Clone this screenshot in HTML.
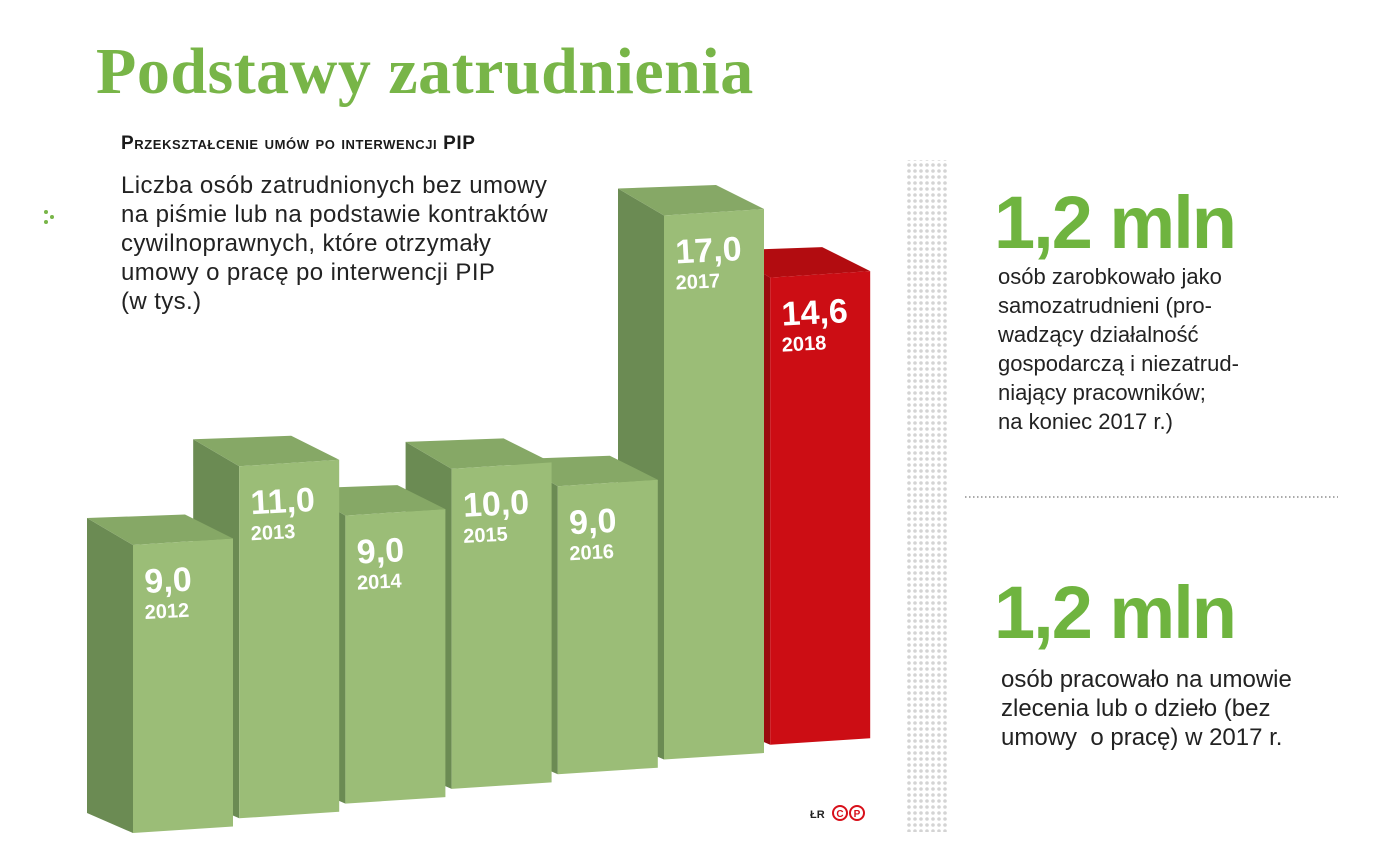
<!DOCTYPE html>
<html><head><meta charset="utf-8">
<style>
body{margin:0;width:1400px;height:866px;background:#fff;position:relative;overflow:hidden;font-family:"Liberation Sans",sans-serif;}
.abs{position:absolute;margin:0;white-space:nowrap;}
.title{left:96px;top:34px;font-family:"Liberation Serif",serif;font-size:66px;font-weight:bold;color:#78b548;letter-spacing:0.5px;}
.sub{left:121px;top:133px;font-size:19px;font-weight:bold;color:#1a1a1a;font-variant:small-caps;letter-spacing:0.6px;}
.desc{left:121px;top:171px;font-size:24px;line-height:29px;color:#222;letter-spacing:0.4px;}
.big{font-size:74px;font-weight:bold;color:#6fb43f;letter-spacing:-2px;}
.rtxt{font-size:22px;line-height:29px;color:#222;}
</style></head><body>
<div class="abs title">Podstawy zatrudnienia</div>
<div class="abs sub">Przekształcenie umów po interwencji PIP</div>
<div class="abs desc">Liczba osób zatrudnionych bez umowy<br>na piśmie lub na podstawie kontraktów<br>cywilnoprawnych, które otrzymały<br>umowy o pracę po interwencji PIP<br>(w tys.)</div>
<svg class="abs" style="left:0;top:0" width="1400" height="866">
<g fill="#78b548"><circle cx="46" cy="212" r="2"/><circle cx="52" cy="217" r="2"/><circle cx="46" cy="222" r="2"/></g>
<defs><pattern id="dots" width="6" height="6" patternUnits="userSpaceOnUse"><circle cx="3" cy="3" r="1.8" fill="#d4d4d4"/></pattern></defs>
<rect x="906" y="160" width="42" height="672" fill="url(#dots)"/>
<line x1="965" y1="497" x2="1338" y2="497" stroke="#555" stroke-width="1" stroke-dasharray="1.5,2.5"/>
<g id="bars"></g>
<text x="810" y="818" font-size="11" font-weight="bold" fill="#222">ŁR</text>
<g fill="none" stroke="#d8101a" stroke-width="2"><circle cx="840" cy="813" r="7"/><circle cx="857" cy="813" r="7"/></g>
<text x="840" y="817" font-size="10" font-weight="bold" fill="#d8101a" text-anchor="middle">C</text>
<text x="857" y="817" font-size="10" font-weight="bold" fill="#d8101a" text-anchor="middle">P</text>
</svg>
<div class="abs big" style="left:994px;top:180px">1,2 mln</div>
<div class="abs rtxt" style="left:998px;top:262px">osób zarobkowało jako<br>samozatrudnieni (pro-<br>wadzący działalność<br>gospodarczą i niezatrud-<br>niający pracowników;<br>na koniec 2017 r.)</div>
<div class="abs big" style="left:994px;top:570px">1,2 mln</div>
<div class="abs rtxt" style="left:1001px;top:665px;font-size:24px">osób pracowało na umowie<br>zlecenia lub o dzieło (bez<br>umowy &nbsp;o pracę) w 2017 r.</div>
<script>
const years=["2012","2013","2014","2015","2016","2017","2018"];
const values=[9.0,11.0,9.0,10.0,9.0,17.0,14.6];
const labels=["9,0","11,0","9,0","10,0","9,0","17,0","14,6"];
const highlight=[false,false,false,false,false,false,true];
const NS="http://www.w3.org/2000/svg";
const g=document.getElementById('bars');
const pxPerUnit=32, W=100, side=46, slope=0.13;
function xLeft(i){return 133+i*106.2;}
function yBottom(i){return 833-i*14.7;}
function yScale(v){return v*pxPerUnit;}
function poly(pts,fill){const p=document.createElementNS(NS,'polygon');p.setAttribute('points',pts.map(a=>a.join(',')).join(' '));p.setAttribute('fill',fill);return p;}
for(let i=years.length-1;i>=0;i--){
  const L=xLeft(i),R=L+W,yb=yBottom(i),h=yScale(values[i]);
  const ybR=yb-W*slope*0.5;
  const tl=yb-h,tr=ybR-h;
  const red=highlight[i];
  const cf=red?"#cc0d14":"#9bbd77",cs=red?"#990a0e":"#6b8b53",ct=red?"#b20c10":"#86a866";
  const grp=document.createElementNS(NS,'g');
  
  
  const bl=[L-side,tl-27],br=[R-48,tr-24];
  grp.appendChild(poly([bl,[L,tl],[L,yb],[L-side,yb-20]],cs));
  grp.appendChild(poly([bl,br,[R,tr],[L,tl]],ct));
  grp.appendChild(poly([[L,tl],[R,tr],[R,ybR],[L,yb]],cf));
  const t1=document.createElementNS(NS,'text');
  t1.setAttribute('x',L+12);t1.setAttribute('y',tl+48);
  t1.setAttribute('font-size','34');t1.setAttribute('font-weight','bold');t1.setAttribute('fill','#fff');
  t1.setAttribute('transform','rotate(-3 '+(L+12)+' '+(tl+48)+')');
  
  
  t1.textContent=labels[i];grp.appendChild(t1);
  const t2=document.createElementNS(NS,'text');
  t2.setAttribute('x',L+12);t2.setAttribute('y',tl+74);
  t2.setAttribute('font-size','20');t2.setAttribute('font-weight','bold');t2.setAttribute('fill','#fff');
  t2.setAttribute('transform','rotate(-3 '+(L+12)+' '+(tl+74)+')');
  
  
  t2.textContent=years[i];grp.appendChild(t2);
  g.appendChild(grp);
}
</script>
</body></html>
